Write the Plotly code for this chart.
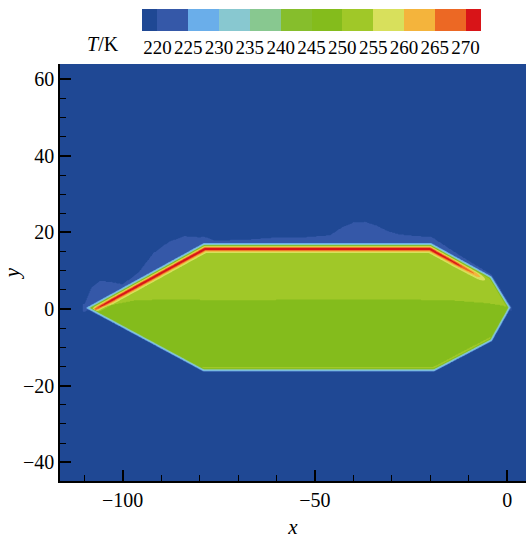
import numpy as np
import plotly.graph_objects as go

# ---- temperature levels and colours (K) ----
levels = [220, 225, 230, 235, 240, 245, 250, 255, 260, 265, 270]
band_colors = ["#1f4894", "#3558a8", "#6aaeea", "#88c8d0", "#88c890", "#86be2c",
               "#84bc1c", "#a0c828", "#d8e05c", "#f4b43c", "#ec6824", "#d81418"]

# ---- body outline (clockwise from the nose) ----
body_x = [-109.8, -79.0, -19.7, -4.0, 1.0, -3.9, -18.9, -79.1]
body_y = [0.3, 17.3, 17.3, 8.6, 0.4, -8.4, -16.3, -16.3]

# field values
T_ambient = 218.0
T_haze = 222.0
T_upper = 252.5
T_lower = 247.5

# line dividing the warmer upper half from the lower half
div_x = [-110, -104, -97, -90, -70, -50, -30, -15, -5, 1]
div_y = [0.3, 0.8, 2.2, 2.5, 2.3, 2.5, 2.5, 2.3, 1.5, 0.5]

# peak temperature of the hot layer under the upper surface
peak_x = [-109.8, -107, -103, -95, -79, -20, -13, -8, -5]
peak_T = [262, 271, 275, 276, 276, 276, 273, 265, 252]

# thickness of the slightly warmer haze above the upper surface
haze_x = [-110, -108, -106, -103, -100, -96, -92, -88, -84, -80, -76, -68, -60,
          -52, -46, -43, -40, -37, -34, -31, -28, -24, -19, -12, -5, 1]
haze_h = [1.0, 4.5, 5.0, 3.0, 0.8, 1.5, 4.5, 5.2, 4.5, 2.0, 0.6, 0.8, 1.4,
          1.5, 2.0, 4.0, 5.3, 5.5, 4.5, 3.0, 2.2, 1.8, 1.5, 0.8, 0.4, 0.2]

# ---- grid ----
xs = np.concatenate([[-116.3, -115.0, -114.0], np.arange(-113.0, 4.01, 0.25), [4.5, 4.9]])
ys = np.concatenate([np.arange(-44.9, -20.0, 2.5), np.arange(-20.0, 26.0, 0.2),
                     np.arange(26.0, 64.0, 2.5), [64.0]])
X, Y = np.meshgrid(xs, ys)


def seg_dist(ax, ay, bx, by):
    dx, dy = bx - ax, by - ay
    t = np.clip(((X - ax) * dx + (Y - ay) * dy) / (dx * dx + dy * dy), 0, 1)
    return np.hypot(X - ax - t * dx, Y - ay - t * dy)


def inside_polygon(px, py):
    inside = np.zeros(X.shape, bool)
    n = len(px)
    j = n - 1
    for i in range(n):
        xi, yi, xj, yj = px[i], py[i], px[j], py[j]
        if yi != yj:
            cross = ((yi > Y) != (yj > Y)) & (X < (xj - xi) * (Y - yi) / (yj - yi) + xi)
            inside ^= cross
        j = i
    return inside


n = len(body_x)
edges = [(body_x[i], body_y[i], body_x[(i + 1) % n], body_y[(i + 1) % n]) for i in range(n)]
d_all = np.min([seg_dist(*e) for e in edges], axis=0)
d_top = np.min([seg_dist(*edges[i]) for i in (0, 1, 2)], axis=0)
d_bot = np.min([seg_dist(*edges[i]) for i in (5, 6)], axis=0)
inside = inside_polygon(body_x, body_y)

# interior: upper / lower halves, warmer strip along the lower surface
T_in = np.where(Y > np.interp(X, div_x, div_y), T_upper, T_lower)
T_in = np.where(d_bot < 1.2, T_upper, T_in)

# hot layer just under the upper surface
w = np.interp(d_top, [0.85, 1.05, 1.35, 1.6, 1.85, 2.25, 2.6, 2.9],
              [0, 0.35, 0.75, 1.0, 0.75, 0.35, 0.13, 0])
peak = np.interp(X, peak_x, peak_T)
T_in = T_in + np.maximum(peak - T_in, 0) * w

# thin cool fringe at the wall
fringe = np.interp(d_all, [0, 0.1, 0.55, 0.8, 1.0], [221, 226, 236, 250, 300])
T_body = np.minimum(T_in, fringe)

# outside: ambient, with haze above the upper surface
y_top = np.interp(X, body_x[:5], body_y[:5])
haze = (X > -110.5) & (X < 1.2) & (Y > y_top - 1) & (Y < y_top + np.interp(X, haze_x, haze_h))
T_out = np.where(haze, T_haze, T_ambient)

Z = np.round(np.where(inside, T_body, T_out), 1)

colorscale = [[k / (len(band_colors) - 1), c] for k, c in enumerate(band_colors)]

serif = "Liberation Serif, Times New Roman, serif"

fig = go.Figure(go.Contour(
    x=xs, y=ys, z=Z,
    colorscale=colorscale,
    autocontour=False,
    contours=dict(start=levels[0], end=levels[-1], size=5, coloring="fill", showlines=False),
    line=dict(width=0),
    hoverinfo="skip",
    colorbar=dict(
        orientation="h",
        x=(142 - 60) / 466, xanchor="left",
        y=(481 - 9) / 417, yanchor="top",
        lenmode="pixels", len=339,
        thicknessmode="pixels", thickness=22,
        xpad=0, ypad=0,
        outlinewidth=0,
        tickmode="array", tickvals=levels, ticktext=[str(v) for v in levels],
        ticks="",
        tickfont=dict(family=serif, size=19, color="black"),
    ),
))

fig.add_annotation(
    text="<i>T</i>/K", xref="paper", yref="paper",
    x=(103 - 60) / 466, y=(481 - 44) / 417,
    xanchor="center", yanchor="middle",
    showarrow=False, font=dict(family=serif, size=20, color="black"),
)

axis_common = dict(
    ticks="inside", ticklen=11, tickwidth=1.5, tickcolor="black",
    showline=True, linecolor="black", linewidth=1.5, mirror=False,
    showgrid=False, zeroline=False,
    tickfont=dict(family=serif, size=20, color="black"),
)

fig.update_xaxes(
    range=[-116.3, 4.9], tickmode="linear", tick0=0, dtick=50,
    minor=dict(dtick=10, tick0=0, ticks="inside", ticklen=6, tickwidth=1.2, tickcolor="black"),
    title=dict(text="<i>x</i>", font=dict(family=serif, size=21, color="black"), standoff=14),
    **axis_common,
)
fig.update_yaxes(
    range=[-44.9, 64.0], tickmode="linear", tick0=0, dtick=20,
    minor=dict(dtick=5, tick0=0, ticks="inside", ticklen=6, tickwidth=1.2, tickcolor="black"),
    title=dict(text="<i>y</i>", font=dict(family=serif, size=21, color="black"), standoff=2),
    **axis_common,
)

fig.update_layout(
    width=526, height=539, autosize=False,
    margin=dict(l=60, r=0, t=64, b=58),
    paper_bgcolor="white", plot_bgcolor="white",
    showlegend=False,
)

fig.write_html("out.html")
